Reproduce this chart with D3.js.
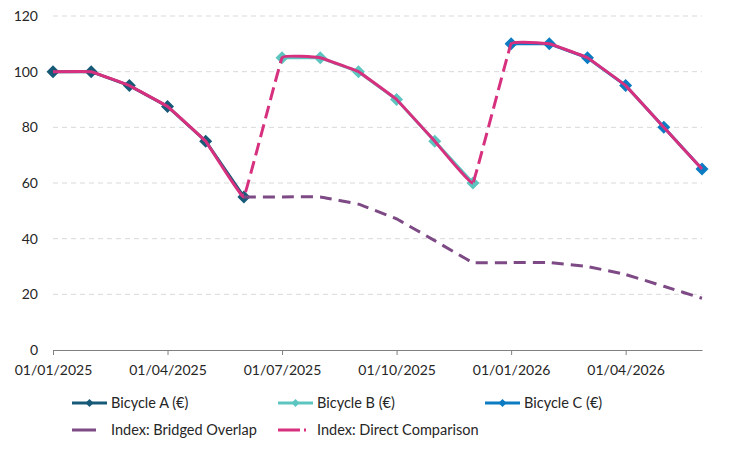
<!DOCTYPE html>
<html>
<head>
<meta charset="utf-8">
<script src="https://cdn.jsdelivr.net/npm/d3@7"></script>
<style>
  body { margin: 0; background: #fff; }
  svg { font-family: Lato, "Open Sans", sans-serif; }
  .tick-label { font-size: 14px; fill: #262626; }
  .legend-label { font-size: 14.5px; fill: #262626; }
</style>
</head>
<body>
<svg id="chart" width="756" height="450"></svg>
<script>
// months on the axis (one point per month, Jan 2025 .. Jun 2026)
const months = ['2025-01','2025-02','2025-03','2025-04','2025-05','2025-06',
  '2025-07','2025-08','2025-09','2025-10','2025-11','2025-12',
  '2026-01','2026-02','2026-03','2026-04','2026-05','2026-06'];
const xTickLabels = ['01/01/2025','01/04/2025','01/07/2025','01/10/2025','01/01/2026','01/04/2026'];
const yTicks = [0, 20, 40, 60, 80, 100, 120];

// price series, null where the bicycle is not on sale
const bikeA = [100, 100, 95, 87.5, 75, 55, null, null, null, null, null, null, null, null, null, null, null, null];
const bikeB = [null, null, null, null, null, null, 105, 105, 100, 90, 75, 60, null, null, null, null, null, null];
const bikeC = [null, null, null, null, null, null, null, null, null, null, null, null, 110, 110, 105, 95, 80, 65];

// index series
const directIndex = [100, 100, 95, 87.5, 75, 55, 105, 105, 100, 90, 75, 60, 110, 110, 105, 95, 80, 65];
const bridgedIndex = [null, null, null, null, null, 55, 55, 55, 52.4, 47.1, 39.3, 31.4, 31.4, 31.4, 30, 27.1, 22.9, 18.6];

const colors = {
  a: '#175a78',
  b: '#5cc5c0',
  c: '#0b7bc2',
  bridged: '#7d4a85',
  direct: '#d7307f'
};

const svg = d3.select('#chart');
const margin = { left: 53, right: 54, top: 16, bottom: 100 };
const width = 756, height = 450;

const x = d3.scaleLinear().domain([0, months.length - 1]).range([margin.left, width - margin.right]);
const y = d3.scaleLinear().domain([0, 120]).range([height - margin.bottom, margin.top]);

// gridlines
svg.append('g')
  .selectAll('line')
  .data(yTicks.filter(d => d > 0))
  .enter().append('line')
  .attr('x1', x(0)).attr('x2', x(months.length - 1))
  .attr('y1', d => y(d)).attr('y2', d => y(d))
  .attr('stroke', '#d9d9d9')
  .attr('stroke-width', 1)
  .attr('stroke-dasharray', '5,4');

// y labels
svg.append('g')
  .selectAll('text')
  .data(yTicks)
  .enter().append('text')
  .attr('class', 'tick-label')
  .attr('x', 38)
  .attr('y', d => y(d) + 5)
  .attr('text-anchor', 'end')
  .text(d => d);

// x axis, tick every 3 months
const xAxis = d3.axisBottom(x)
  .tickValues(xTickLabels.map((d, i) => i * 3))
  .tickFormat((d, i) => xTickLabels[i])
  .tickSize(5)
  .tickSizeOuter(0);

const axisG = svg.append('g')
  .attr('transform', `translate(0,${y(0)})`)
  .call(xAxis);
axisG.select('.domain').attr('stroke', '#808080');
axisG.selectAll('.tick line').attr('stroke', '#808080');
axisG.selectAll('.tick text')
  .attr('class', 'tick-label')
  .attr('dy', 0)
  .attr('y', 25)
  .style('font-family', 'Lato, "Open Sans", sans-serif');

const straight = d3.line()
  .defined(d => d != null)
  .x((d, i) => x(i))
  .y(d => y(d));

// Excel-like smoothing: cardinal spline with little overshoot
const smooth = d3.line()
  .defined(d => d != null)
  .x((d, i) => x(i))
  .y(d => y(d))
  .curve(d3.curveCardinal.tension(0.85));

function diamond(r) {
  return `M0,${-r}L${r},0L0,${r}L${-r},0Z`;
}

// bicycle lines with diamond markers
[[bikeA, colors.a], [bikeB, colors.b], [bikeC, colors.c]].forEach(([vals, col]) => {
  svg.append('path')
    .datum(vals)
    .attr('d', straight)
    .attr('fill', 'none')
    .attr('stroke', col)
    .attr('stroke-width', 3);
  svg.append('g')
    .selectAll('path')
    .data(vals.map((v, i) => ({ v, i })).filter(d => d.v != null))
    .enter().append('path')
    .attr('d', diamond(6.5))
    .attr('transform', d => `translate(${x(d.i)},${y(d.v)})`)
    .attr('fill', col);
});

// bridged overlap index
svg.append('path')
  .datum(bridgedIndex)
  .attr('d', smooth)
  .attr('fill', 'none')
  .attr('stroke', colors.bridged)
  .attr('stroke-width', 3)
  .attr('stroke-dasharray', '12,7');

// direct comparison: solid while on one bicycle, dashed across the switches
const defs = svg.append('defs');
const groups = [[0, 5], [6, 11], [12, 17]];
const jumps = [[5, 6], [11, 12]];

const solidClip = defs.append('clipPath').attr('id', 'clip-solid');
groups.forEach((g, i) => {
  const x0 = i === 0 ? 0 : x(g[0]);
  const x1 = i === groups.length - 1 ? width : x(g[1]);
  solidClip.append('rect')
    .attr('x', x0).attr('width', x1 - x0)
    .attr('y', 0).attr('height', height);
});

const dashClip = defs.append('clipPath').attr('id', 'clip-dash');
jumps.forEach(j => {
  dashClip.append('rect')
    .attr('x', x(j[0]))
    .attr('width', x(j[1]) - x(j[0]))
    .attr('y', 0).attr('height', height);
});

svg.append('path')
  .datum(directIndex)
  .attr('d', smooth)
  .attr('fill', 'none')
  .attr('stroke', colors.direct)
  .attr('stroke-width', 3)
  .attr('clip-path', 'url(#clip-solid)');

svg.append('path')
  .datum(directIndex)
  .attr('d', smooth)
  .attr('fill', 'none')
  .attr('stroke', colors.direct)
  .attr('stroke-width', 3)
  .attr('stroke-dasharray', '13,6')
  .attr('clip-path', 'url(#clip-dash)');

// legend
const legendItems = [
  { label: 'Bicycle A (€)', color: colors.a, marker: true, x: 72, y: 403 },
  { label: 'Bicycle B (€)', color: colors.b, marker: true, x: 278, y: 403 },
  { label: 'Bicycle C (€)', color: colors.c, marker: true, x: 485, y: 403 },
  { label: 'Index: Bridged Overlap', color: colors.bridged, dash: '24,100', x: 72, y: 430 },
  { label: 'Index: Direct Comparison', color: colors.direct, dash: '22,4,2,100', x: 278, y: 430 }
];

const legend = svg.append('g');
legendItems.forEach(item => {
  const g = legend.append('g').attr('transform', `translate(${item.x},${item.y})`);
  g.append('line')
    .attr('x1', 0).attr('x2', 35)
    .attr('stroke', item.color)
    .attr('stroke-width', 3)
    .attr('stroke-dasharray', item.dash || null);
  if (item.marker) {
    g.append('path')
      .attr('d', diamond(4))
      .attr('transform', 'translate(17.5,0)')
      .attr('fill', item.color);
  }
  g.append('text')
    .attr('class', 'legend-label')
    .attr('x', 39)
    .attr('y', 5)
    .text(item.label);
});
</script>
</body>
</html>
